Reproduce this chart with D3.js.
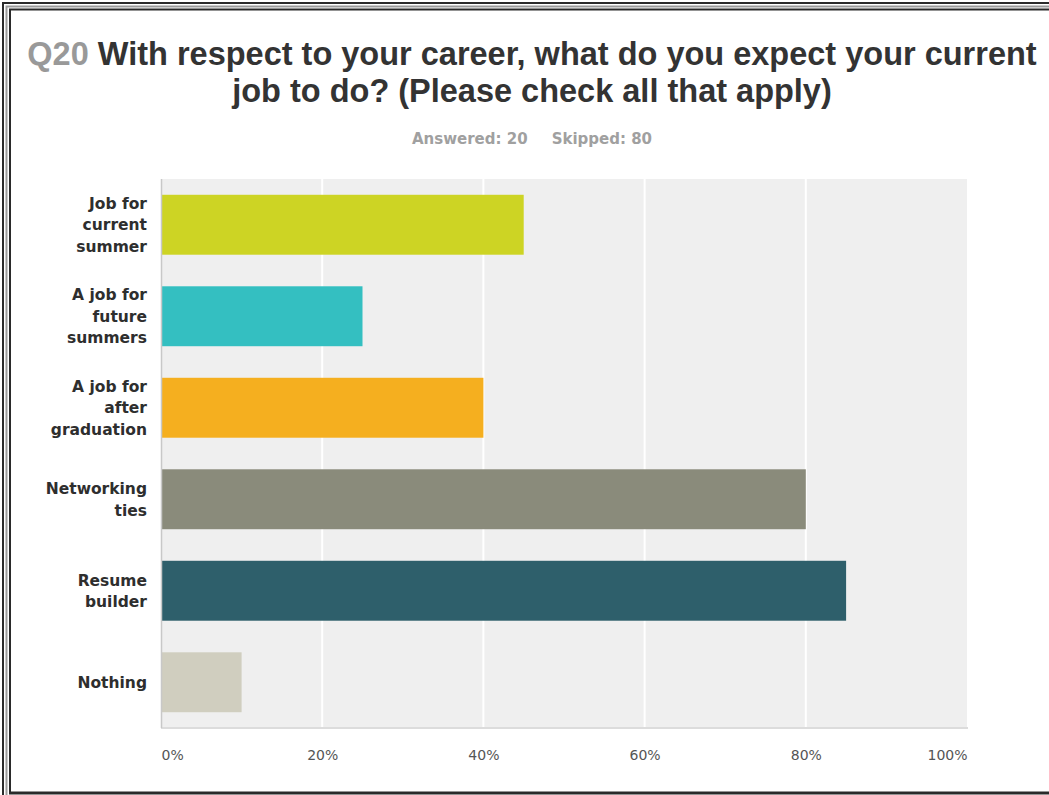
<!DOCTYPE html>
<html>
<head>
<meta charset="utf-8" />
<title>Q20 career expectations</title>
<script src="https://d3js.org/d3.v7.min.js"></script>
<style>
  body { margin: 0; padding: 0; background: #fff; }
  svg { display: block; }
</style>
</head>
<body>
<div id="chart"></div>
<script>
// data
const categories = [
  ['Job for', 'current', 'summer'],
  ['A job for', 'future', 'summers'],
  ['A job for', 'after', 'graduation'],
  ['Networking', 'ties'],
  ['Resume', 'builder'],
  ['Nothing']
]
const values = [45, 25, 40, 80, 85, 10]
const barColors = ['#cdd424', '#34bfc1', '#f5af1f', '#8a8b7b', '#2e5f6b', '#d0cebf']
const xTicks = [0, 20, 40, 60, 80, 100]

const W = 1049, H = 795
const margin = {top: 179, right: 82, bottom: 67, left: 161}

const svg = d3.select('#chart').append('svg')
  .attr('width', W)
  .attr('height', H)

// frame
const frame = svg.append('g')
frame.append('rect').attr('x', 0).attr('y', 0).attr('width', W).attr('height', H).attr('fill', '#fff')
frame.append('path').attr('d', `M3,${H} V3 H${W}`).attr('stroke', '#2a2a2a').attr('stroke-width', 2).attr('fill', 'none')
frame.append('path').attr('d', `M6.5,${H} V6.5 H${W}`).attr('stroke', '#9a9a9a').attr('stroke-width', 2).attr('fill', 'none')
frame.append('path').attr('d', `M10,${H - 2} V9.5 H${W}`).attr('stroke', '#2a2a2a').attr('stroke-width', 2).attr('fill', 'none')
frame.append('line').attr('x1', 9).attr('x2', W).attr('y1', 793).attr('y2', 793)
  .attr('stroke', '#2a2a2a').attr('stroke-width', 3)

// title
const title = svg.append('text')
  .attr('text-anchor', 'middle')
  .attr('font-family', '"Liberation Sans", Arial, sans-serif')
  .attr('font-weight', 'bold')
  .attr('font-size', 32.5)
  .attr('fill', '#333')
const t1 = title.append('tspan').attr('x', 532).attr('y', 65)
t1.append('tspan').attr('fill', '#999').text('Q20 ')
t1.append('tspan').text('With respect to your career, what do you expect your current')
title.append('tspan').attr('x', 532).attr('y', 102).text('job to do? (Please check all that apply)')

const sub = svg.append('text')
  .attr('x', 532).attr('y', 144)
  .attr('text-anchor', 'middle')
  .attr('font-family', '"DejaVu Sans", Verdana, sans-serif')
  .attr('font-weight', 'bold')
  .attr('font-size', 15)
  .attr('fill', '#a0a0a0')
sub.append('tspan').text('Answered: 20')
sub.append('tspan').attr('dx', 24).text('Skipped: 80')

const iw = W - margin.left - margin.right
const ih = H - margin.top - margin.bottom

const x = d3.scaleLinear().domain([0, 100]).range([0, iw])
const y = d3.scaleBand().domain(d3.range(categories.length)).range([0, ih]).paddingInner(0.345).paddingOuter(0.1725)

const g = svg.append('g').attr('transform', `translate(${margin.left},${margin.top})`)

g.append('rect').attr('width', iw).attr('height', ih).attr('fill', '#efefef')

// gridlines
g.selectAll('.grid')
  .data(xTicks.slice(1, -1))
  .enter().append('line')
    .attr('x1', d => x(d)).attr('x2', d => x(d))
    .attr('y1', 0).attr('y2', ih)
    .attr('stroke', '#fff').attr('stroke-width', 2)

// bars
g.selectAll('.bar')
  .data(values)
  .enter().append('rect')
    .attr('x', 1)
    .attr('y', (d, i) => y(i))
    .attr('width', d => x(d) - 1)
    .attr('height', y.bandwidth())
    .attr('fill', (d, i) => barColors[i])

// axis lines
g.append('line').attr('x1', 0).attr('x2', iw + 1).attr('y1', ih).attr('y2', ih)
  .attr('stroke', '#dcdcdc').attr('stroke-width', 2)
g.append('line').attr('x1', 0.5).attr('x2', 0.5).attr('y1', 0).attr('y2', ih)
  .attr('stroke', '#c8c8c8').attr('stroke-width', 1.5)

// x axis
const xAxis = g.append('g')
  .attr('transform', `translate(0,${ih})`)
  .call(d3.axisBottom(x).tickValues(xTicks).tickSize(0).tickPadding(22).tickFormat(d => d + '%'))
xAxis.select('.domain').remove()
xAxis.selectAll('text')
  .attr('font-family', '"DejaVu Sans", Verdana, sans-serif')
  .attr('font-size', 14)
  .attr('fill', '#555')
  .attr('text-anchor', (d, i) => i === 0 ? 'start' : (i === xTicks.length - 1 ? 'end' : 'middle'))

// y labels
const lineH = 21.5
const labels = g.selectAll('.ylab')
  .data(categories)
  .enter().append('text')
    .attr('text-anchor', 'end')
    .attr('font-family', '"DejaVu Sans", Verdana, sans-serif')
    .attr('font-weight', 'bold')
    .attr('font-size', 15.5)
    .attr('fill', '#2e2e2e')
labels.each(function(lines, i) {
  const cy = y(i) + y.bandwidth() / 2
  const first = cy - (lines.length - 1) * lineH / 2 + 5.5
  d3.select(this).selectAll('tspan')
    .data(lines)
    .enter().append('tspan')
      .attr('x', -14)
      .attr('y', (d, k) => first + k * lineH)
      .text(d => d)
})
</script>
</body>
</html>
